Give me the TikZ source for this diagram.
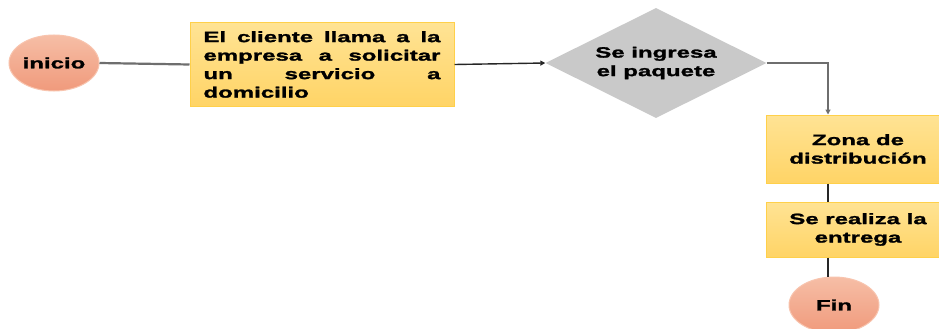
\documentclass[tikz,border=0pt]{standalone}
\usepackage{fontspec}
\newfontfamily\lbl{Liberation Sans}[FakeStretch=1.6, BoldFeatures={FakeBold=1.6}]
\usetikzlibrary{shapes.geometric,arrows.meta}
\definecolor{boxtop}{HTML}{FFE394}
\definecolor{boxbot}{HTML}{FFD466}
\definecolor{boxline}{HTML}{FFD04A}
\definecolor{elltop}{HTML}{F6BEA6}
\definecolor{ellbot}{HTML}{F09A7C}
\definecolor{ellline}{HTML}{F8C4AE}
\definecolor{diafill}{HTML}{C9C9C9}
\definecolor{gline}{HTML}{6E6E6E}
\tikzset{
  lbltext/.style={font=\lbl\bfseries\fontsize{15}{18.5}\selectfont, text=black},
  termnode/.style={ellipse, lbltext, top color=elltop, bottom color=ellbot, draw=ellline, line width=1pt, minimum width=90pt, minimum height=56pt, inner sep=0pt},
  procbox/.style={rectangle, lbltext, top color=boxtop, bottom color=boxbot, draw=boxline, line width=1pt, inner sep=0pt, align=center},
  decision/.style={diamond, aspect=2, lbltext, fill=diafill, minimum width=221pt, minimum height=110pt, inner sep=0pt, align=center},
  grayconn/.style={draw=gline, line width=2.2pt},
  darkconn/.style={draw=black!85, line width=1.4pt},
  tip/.style={-{Triangle[length=5pt,width=5pt]}}
}
\begin{document}
\begin{tikzpicture}[x=1pt,y=-1pt]
\clip (0,0) rectangle (939,329);
\fill[white] (0,0) rectangle (939,329);
\node[termnode] (ini) at (54,63) {inicio};
\node[procbox, minimum width=264pt, minimum height=83pt, text width=237pt, align=justify] (b1) at (322,64.5)
  {El cliente llama a la\linebreak empresa a solicitar\linebreak un servicio a\linebreak domicilio};
\node[decision] (dia) at (656,63) {Se ingresa\\el paquete};
\node[procbox, minimum width=184pt, minimum height=68pt] (zona) at (858,149) {Zona de\\distribución};
\node[procbox, minimum width=184pt, minimum height=55pt] (real) at (858,229.5) {Se realiza la\\entrega};
\node[termnode] (fin) at (834,305) {Fin};
\coordinate (colx) at (828,0);
\draw[grayconn] (ini.east) -- (b1.west);
\draw[darkconn, tip] (b1.east) -- (dia.west);
\draw[grayconn, tip] (dia.east) -| (zona.north -| colx);
\draw[darkconn] (zona.south -| colx) -- (real.north -| colx);
\draw[darkconn] (real.south -| colx) -- (fin.north -| colx);
\end{tikzpicture}
\end{document}
